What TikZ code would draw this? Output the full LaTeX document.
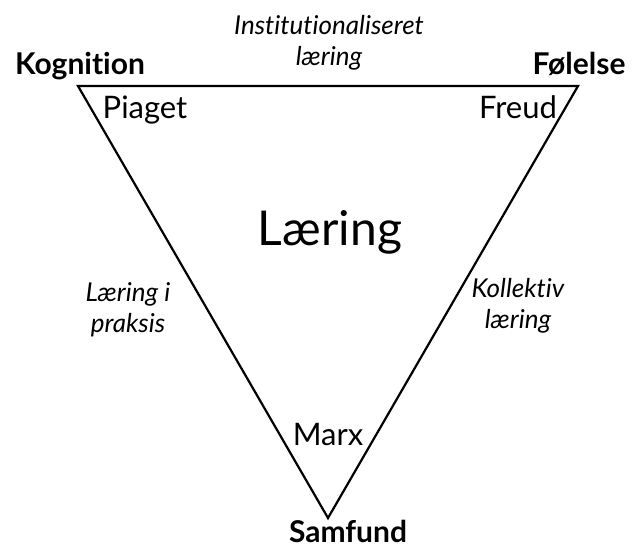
\documentclass[tikz,border=0pt]{standalone}
\usepackage{fontspec}
\setmainfont{Lato}[Ligatures={NoCommon,NoRare}]
\begin{document}
\begin{tikzpicture}[x=1pt,y=-1pt,
  vertex/.style={font=\bfseries\fontsize{30}{32}\selectfont, inner sep=0pt, anchor=base},
  person/.style={font=\fontsize{31}{34}\selectfont, inner sep=0pt, anchor=base},
  side/.style={font=\itshape\fontsize{26}{31}\selectfont, align=center, inner sep=0pt},
  edge/.style={line width=2.2pt, line join=miter}]
\useasboundingbox (0,0) rectangle (632,548);
\coordinate (kog) at (78,86);
\coordinate (fol) at (578,86);
\coordinate (sam) at (328,518);
\draw[edge] (kog) -- (fol) -- (sam) -- cycle;
\node[vertex] (kogn) at (80,75) {Kognition};
\node[vertex] (foln) at (579,75) {Følelse};
\node[vertex] (samn) at (348,542) {Samfund};
\node[person] (piaget) at (145,119) {Piaget};
\node[person] (freud) at (518,119) {Freud};
\node[person] (marx) at (328,445) {Marx};
\node[font=\fontsize{48}{50}\selectfont, inner sep=0pt, anchor=base] (lae) at (330,246) {Læring};
\node[side] (inst) at (329,43) {Institutionaliseret\\læring};
\node[side] (prak) at (128,310) {Læring i\\praksis};
\node[side] (koll) at (518,306) {Kollektiv\\læring};
\end{tikzpicture}
\end{document}
